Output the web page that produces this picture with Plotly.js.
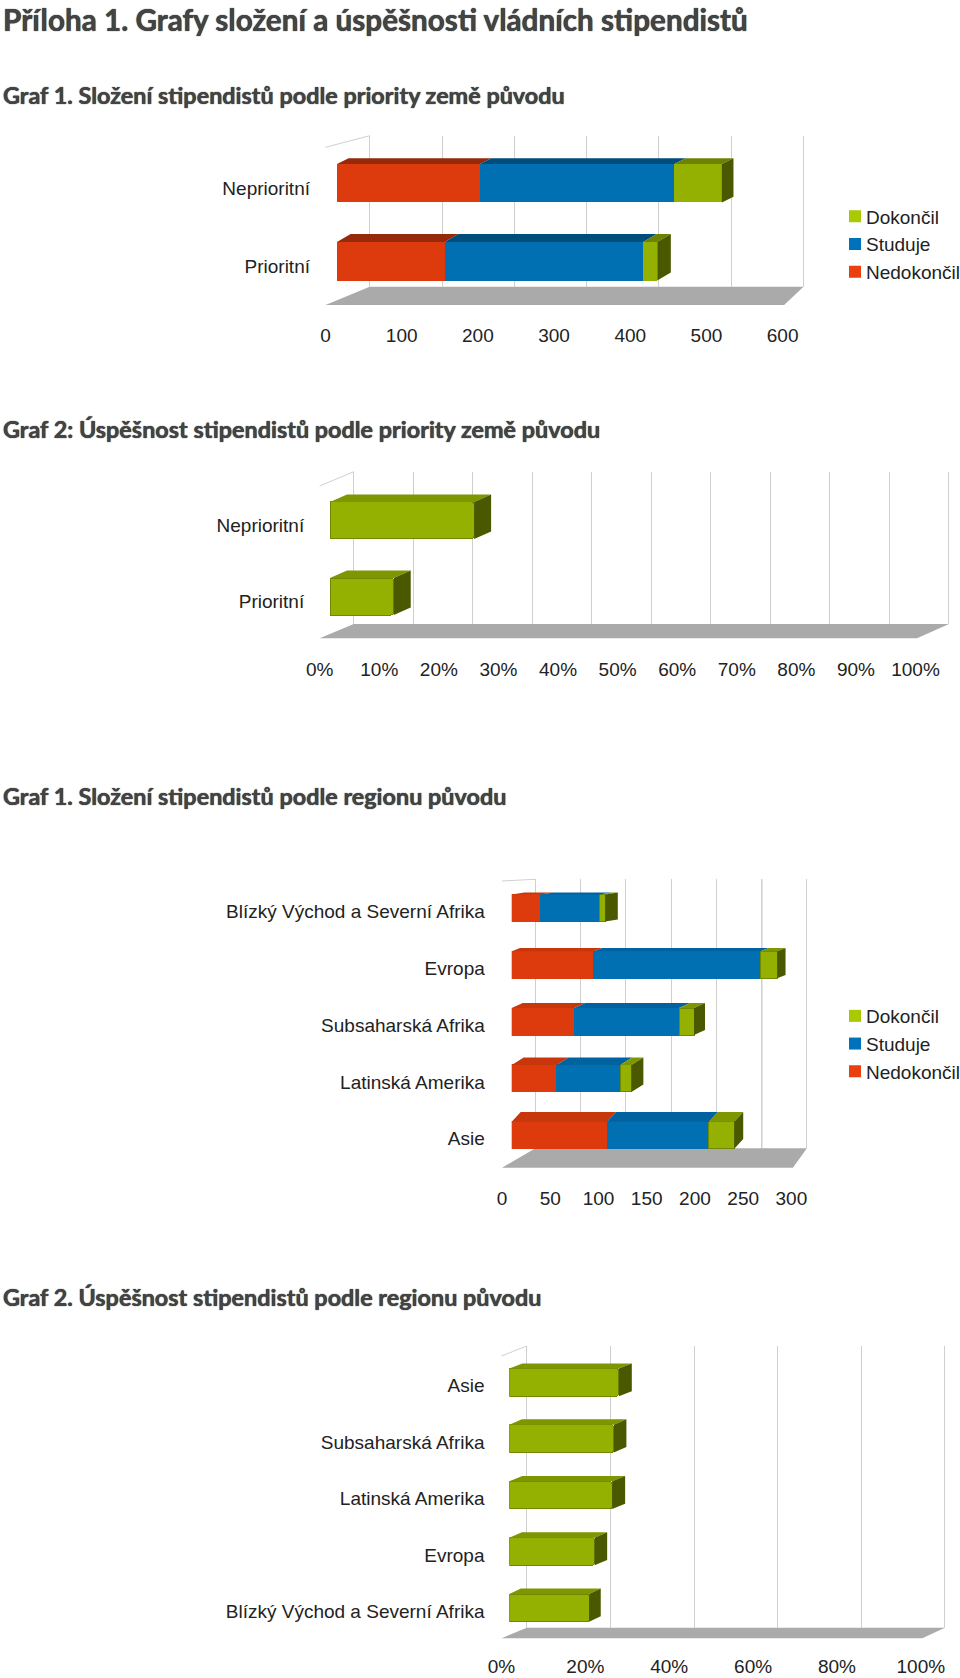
<!DOCTYPE html>
<html><head><meta charset="utf-8">
<script src="https://cdn.plot.ly/plotly-3.0.1.min.js"></script>
<style>html,body{margin:0;padding:0;background:#fff}#c{width:960px;height:1678px}</style></head>
<body><div id="c"></div>
<script>
// ---- data ----
const catsPriority = ['Prioritní','Neprioritní'];
const nedokoncilPriority = [145,192];
const studujePriority = [267,262];
const dokoncilPriority = [19,64];
const uspesnostPriority = [10.7,24.2];

const catsRegion = ['Asie','Latinská Amerika','Subsaharská Afrika','Evropa','Blízký Východ a Severní Afrika'];
const nedokoncilRegion = [102,48,67,88,31];
const studujeRegion = [109,68,112,178,63];
const dokoncilRegion = [27,12,16,18,6];

const catsRegion2 = ['Blízký Východ a Severní Afrika','Evropa','Latinská Amerika','Subsaharská Afrika','Asie'];
const uspesnostRegion = [19.1,20.4,24.6,25,26.2];

const seriesNames = ['Nedokončil','Studuje','Dokončil'];
const titles = ['Příloha 1. Grafy složení a úspěšnosti vládních stipendistů',
  'Graf 1. Složení stipendistů podle priority země původu',
  'Graf 2: Úspěšnost stipendistů podle priority země původu',
  'Graf 1. Složení stipendistů podle regionu původu',
  'Graf 2. Úspěšnost stipendistů podle regionu původu'];

// ---- page geometry and styles (pixels) ----
const W=960,H=1678;
const fx=p=>p/W, fy=p=>1-p/H;
const FONT='"Liberation Sans", Arial, sans-serif';
const FS=19;
const col={front:['#dd3b0d','#0070b3','#94b000'],top:['#96290a','#004c7a','#6c8200'],side:['#96290a','#004c7a','#4a5900'],
  legend:['#e8400f','#0072bc','#a9c900'],edge:['#dd3b0d','#0070b3','#6f8a00'],bevelTop:['#c8370c','#0063a0','#7e9700']};
const titleY=[19,95,429,796,1297];
const charts=[
 {cats:catsPriority,series:[nedokoncilPriority,studujePriority,dokoncilPriority],max:600,dtick:100,suffix:'',
  back:[369.7,803.5],wall:[135.7,286.7],floorY:305,front:[325.5,782.6],barX0:337,pxu:0.743,
  c0:261.3,sp:78.1,barH:38.4,tickY:332,labRight:310,labShift:5,dx:[13.6,11.6],dy:[8,5.7],wallLeftY:147.3,
  legendY:197.5},
 {cats:catsPriority,series:[uspesnostPriority],seriesIdx:[2],max:100,dtick:10,suffix:'%',
  back:[353.7,949],wall:[471.7,624],floorY:638.3,front:[319.7,915.5],barX0:330,pxu:5.955,
  c0:596.5,sp:76.1,barH:37,tickY:666,labRight:304.2,labShift:4.5,dx:[17,17],dy:[7.4,7.4],wallLeftY:486,bevel:true},
 {cats:catsRegion,series:[nedokoncilRegion,studujeRegion,dokoncilRegion],max:300,dtick:50,suffix:'',
  back:[535.4,806.9],wall:[879.3,1148.3],floorY:1167.7,front:[502,791.4],barX0:511.7,pxu:0.935,
  c0:1135.2,sp:56.8,barH:27,tickY:1195.3,labRight:484.8,labShift:3.5,dx:[9,12,11,8.3,12.6],dy:[9.6,7.3,5,3.3,2],wallLeftY:881,
  legendY:997,dark:250,bevel:true},
 {cats:catsRegion2,series:[uspesnostRegion],seriesIdx:[2],max:100,dtick:20,suffix:'%',
  back:[526.7,945],wall:[1346,1627.7],floorY:1638.3,front:[501.5,920.8],barX0:509.3,pxu:4.18,
  c0:1607.9,sp:56.4,barH:27.7,tickY:1663,labRight:484.5,labShift:3.5,dx:[11.6,12.6,13,12.6,13],dy:[5.6,5.4,5.3,5.5,5],wallLeftY:1356,bevel:true}
];

const traces=[],layout={width:W,height:H,margin:{l:0,r:0,t:0,b:0,autoexpand:false},paper_bgcolor:'#fff',plot_bgcolor:'rgba(0,0,0,0)',
  barmode:'stack',showlegend:true,shapes:[],annotations:[],font:{family:FONT,size:FS,color:'#222'}};

charts.forEach((c,k)=>{
  const n=c.cats.length, ids=c.cats.map((_,i)=>i);
  const g=k+1,b=k+5,l=k+9;
  const yTop=c.c0-(n-0.5)*c.sp, yBot=c.c0+0.5*c.sp;
  const noAx={showgrid:false,zeroline:false,showline:false,ticks:'',showticklabels:false,fixedrange:true,automargin:false};
  // back wall: gridlines (range padded 1% so the end lines are kept)
  const bw=c.back[1]-c.back[0];
  layout['xaxis'+g]={...noAx,domain:[fx(c.back[0]-bw*0.01),fx(c.back[1]+bw*0.01)],range:[-c.max*0.01,c.max*1.01],dtick:c.dtick,tick0:0,showgrid:true,
    gridcolor:'#cfcfcf',gridwidth:1,anchor:'y'+g};
  layout['yaxis'+g]={...noAx,domain:[fy(c.wall[1]),fy(c.wall[0])],range:[0,1],anchor:'x'+g};
  traces.push({type:'scatter',mode:'markers',x:[null],y:[null],xaxis:'x'+g,yaxis:'y'+g,showlegend:false,hoverinfo:'skip'});
  // bars
  layout['xaxis'+b]={...noAx,domain:[fx(c.barX0),fx(c.barX0+c.pxu*c.max)],range:[0,c.max],anchor:'y'+b};
  layout['yaxis'+b]={...noAx,domain:[fy(yBot),fy(yTop)],range:[-0.5,n-0.5],anchor:'x'+b};
  const idx=c.seriesIdx||[0,1,2];
  const running=ids.map(()=>0);
  const hw=c.barH/c.sp/2;
  c.series.forEach((vals,s)=>{
    const ci=idx[s];
    traces.push({type:'bar',orientation:'h',name:idx.length>1?seriesNames[ci]:'Úspěšnost',x:vals,y:ids,width:c.barH/c.sp,
      xaxis:'x'+b,yaxis:'y'+b,showlegend:false,
      marker:{color:col.front[ci],cornerradius:(c.bevel&&idx.length==1)?3:0,line:{color:c.bevel?col.edge[ci]:col.front[ci],width:c.bevel?1:0}},hoverinfo:'x+name'});
    const tx=[],ty=[];
    vals.forEach((v,i)=>{
      const a=running[i],e=a+v,dx=c.dx[i]/c.pxu,dy=c.dy[i]/c.sp,y=ids[i]+hw;
      tx.push(a,e,e+dx,a+dx,a,null); ty.push(y,y,y+dy,y+dy,y,null);
    });
    traces.push({type:'scatter',mode:'lines',line:{width:0},fill:'toself',fillcolor:c.bevel?col.bevelTop[ci]:col.top[ci],x:tx,y:ty,
      xaxis:'x'+b,yaxis:'y'+b,showlegend:false,hoverinfo:'skip'});
    vals.forEach((v,i)=>{running[i]+=v;});
    if(s===c.series.length-1){
      const sx=[],sy=[];
      vals.forEach((v,i)=>{
        const e=running[i],dx=c.dx[i]/c.pxu,dy=c.dy[i]/c.sp,yt=ids[i]+hw,yb=ids[i]-hw;
        sx.push(e,e+dx,e+dx,e,e,null); sy.push(yt,yt+dy,yb+dy,yb,yt,null);
      });
      traces.push({type:'scatter',mode:'lines',line:{width:0},fill:'toself',fillcolor:col.side[ci],x:sx,y:sy,
        xaxis:'x'+b,yaxis:'y'+b,showlegend:false,hoverinfo:'skip'});
    }
  });
  // front labels: x tick labels and category labels
  layout['xaxis'+l]={...noAx,domain:[fx(c.front[0]),fx(c.front[1])],range:[0,c.max],dtick:c.dtick,tick0:0,
    showticklabels:true,ticksuffix:c.suffix,anchor:'free',position:fy(c.tickY-10),side:'bottom',
    tickfont:{family:FONT,size:FS,color:'#222'}};
  layout['yaxis'+l]={...noAx,domain:[fy(yBot+c.labShift),fy(yTop+c.labShift)],range:[-0.5,n-0.5],tickmode:'array',
    tickvals:ids,ticktext:c.cats,showticklabels:true,anchor:'free',position:fx(c.labRight),side:'left',
    tickfont:{family:FONT,size:FS,color:'#222'}};
  traces.push({type:'scatter',mode:'markers',x:[null],y:[null],xaxis:'x'+l,yaxis:'y'+l,showlegend:false,hoverinfo:'skip'});
  // floor and left wall edge
  const fl=c.front[0],fr=c.front[1]+1.5,bl=c.back[0],br=c.back[1];
  layout.shapes.push({type:'path',xref:'paper',yref:'paper',layer:'below',line:{width:0},fillcolor:'#aaaaaa',
    path:`M${fx(fl)},${fy(c.floorY)}L${fx(fr)},${fy(c.floorY)}L${fx(br)},${fy(c.wall[1])}L${fx(bl)},${fy(c.wall[1])}Z`});
  layout.shapes.push({type:'line',xref:'paper',yref:'paper',layer:'below',line:{color:'#d0d0d0',width:1},
    x0:fx(fl),y0:fy(c.wallLeftY),x1:fx(bl),y1:fy(c.wall[0])});
  if(c.dark!==undefined) layout.shapes.push({type:'line',xref:'x'+g,yref:'y'+g,layer:'below',line:{color:'#555',width:1},
    x0:c.dark,x1:c.dark,y0:0,y1:1});
  // legend
  if(c.legendY!==undefined){
    const key=k===0?'legend':'legend2';
    layout[key]={x:fx(839),y:fy(c.legendY),xanchor:'left',yanchor:'top',traceorder:'normal',indentation:-13,itemwidth:30,bgcolor:'rgba(0,0,0,0)',
      font:{family:FONT,size:FS,color:'#222'},itemclick:false,itemdoubleclick:false};
    [2,1,0].forEach(ci=>traces.push({type:'scatter',mode:'markers',name:seriesNames[ci],x:[null],y:[null],
      xaxis:'x'+b,yaxis:'y'+b,legend:key,hoverinfo:'skip',marker:{symbol:'square',size:12,color:col.legend[ci]}}));
  }
});
titles.forEach((t,i)=>layout.annotations.push({text:t,xref:'paper',yref:'paper',x:fx(1),y:fy(titleY[i]),xanchor:'left',yanchor:'middle',
  showarrow:false,font:{family:'Lato',size:i===0?29.7:23.4,weight:700,color:'#444',shadow:'0 0 1px #000'}}));
Plotly.newPlot('c',traces,layout,{displayModeBar:false,responsive:false}).then(()=>{
  // swatches sit closer to their labels in the reference than the legend's fixed gap
  document.querySelectorAll('.legendsymbols').forEach(el=>el.setAttribute('transform','translate(9,0)'));
});
</script></body></html>
